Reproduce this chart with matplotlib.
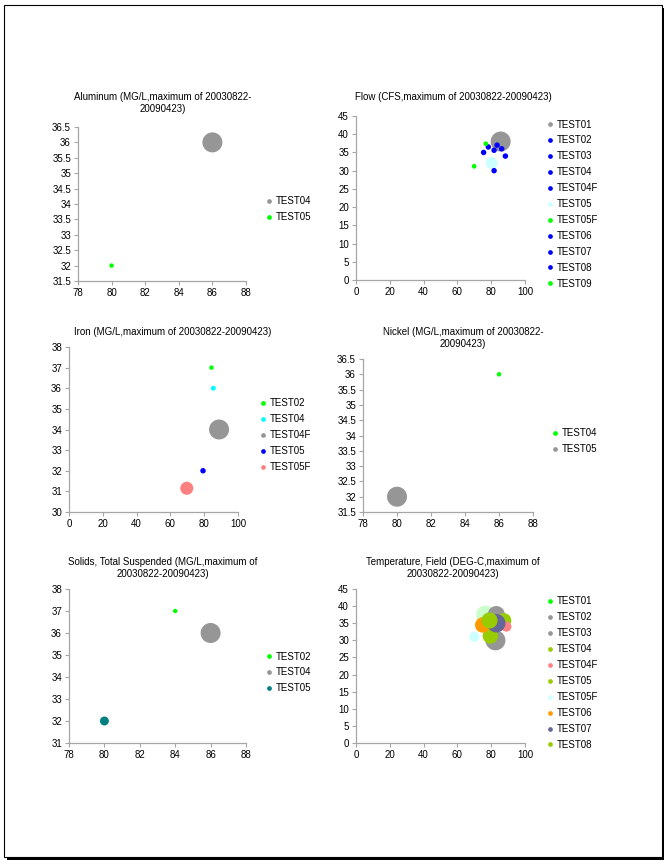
import matplotlib
matplotlib.use("Agg")
import matplotlib.pyplot as plt
from matplotlib.lines import Line2D
from matplotlib.patches import Rectangle
from matplotlib.ticker import StrMethodFormatter
import numpy as np

W, H = 670, 865
plt.rcParams['font.family'] = ['Liberation Sans', 'DejaVu Sans']
plt.rcParams['font.size'] = 7

GRAY = '#969696'
GREEN = '#00FF00'
BLUE = '#0000FF'
CYAN = '#00FFFF'
LCYAN = '#CCFFFF'
PINK = '#FF8080'
TEAL = '#008080'
YGREEN = '#99CC00'
ORANGE = '#FF9900'
SLATE = '#666699'
PALEGREEN = '#CCFFCC'

# Aluminum
al_labels = ['TEST04', 'TEST05']
al_x = [86, 80]
al_y = [36, 32]
al_size = [20, 1]

# Flow
flow_labels = ['TEST01', 'TEST02', 'TEST03', 'TEST04', 'TEST04F', 'TEST05',
               'TEST05F', 'TEST06', 'TEST07', 'TEST08', 'TEST09']
flow_x = [85.6, 75.5, 78.3, 81.7, 83.5, 80.3, 76.8, 86.2, 88.4, 81.7, 69.9]
flow_y = [38.0, 35.0, 36.5, 35.6, 37.0, 32.1, 37.4, 36.0, 34.0, 30.0, 31.2]
flow_size = [20, 1.5, 1.5, 1.5, 1.5, 7, 1.1, 1.5, 1.5, 1.5, 1.1]

# Iron
iron_labels = ['TEST02', 'TEST04', 'TEST04F', 'TEST05', 'TEST05F']
iron_x = [84.3, 85.4, 88.8, 79.3, 69.7]
iron_y = [37.0, 36.0, 34.0, 32.0, 31.15]
iron_size = [1, 1.2, 20, 1.5, 8.5]

# Nickel
ni_labels = ['TEST04', 'TEST05']
ni_x = [86, 80]
ni_y = [36, 32]
ni_size = [1, 20]

# Solids, Total Suspended
tss_labels = ['TEST02', 'TEST04', 'TEST05']
tss_x = [84, 86, 80]
tss_y = [37, 36, 32]
tss_size = [1, 20, 4]

# Temperature, Field
temp_labels = ['TEST01', 'TEST02', 'TEST03', 'TEST04', 'TEST04F', 'TEST05',
               'TEST05F', 'TEST06', 'TEST07', 'TEST08']
temp_x = [76.5, 83.0, 82.5, 87.5, 89.0, 79.5, 70.0, 75.0, 83.0, 79.0]
temp_y = [37.5, 37.5, 30.0, 35.8, 34.0, 31.3, 31.0, 34.5, 35.0, 35.8]
temp_size = [17, 15, 20, 11, 5, 12, 5, 12, 17, 13]


def px_axes(fig, x0, y0, x1, y1):
    ax = fig.add_axes([x0 / W, 1 - y1 / H, (x1 - x0) / W, (y1 - y0) / H])
    ax.set_facecolor('none')
    for s in ['top', 'right']:
        ax.spines[s].set_visible(False)
    for s in ['left', 'bottom']:
        ax.spines[s].set_color('#A6A6A6')
        ax.spines[s].set_linewidth(0.9)
    ax.tick_params(direction='out', length=3, width=0.8, color='#A6A6A6',
                   labelsize=7, pad=2)
    ax.xaxis.set_major_formatter(StrMethodFormatter('{x:g}'))
    ax.yaxis.set_major_formatter(StrMethodFormatter('{x:g}'))
    return ax


def panel(fig, rect, title, title_xy, xs, ys, sizes, colors, labels,
          xlim, xticks, ylim, yticks, leg_xy, leg_colors=None):
    ax = px_axes(fig, *rect)
    smax = max(sizes)
    for x, y, s, c in zip(xs, ys, sizes, colors):
        d = 20 * np.sqrt(s / smax)       # diameter in px
        ax.scatter([x], [y], s=(d * 0.72) ** 2, color=c, edgecolors='none',
                   clip_on=False)
    ax.set_xlim(*xlim)
    ax.set_ylim(*ylim)
    ax.set_xticks(xticks)
    ax.set_yticks(yticks)

    fig.text(title_xy[0] / W, 1 - title_xy[1] / H, title, ha='center',
             va='top', fontsize=7, linespacing=1.2)

    if leg_colors is None:
        leg_colors = colors
    handles = [Line2D([], [], ls='none', marker='o', markersize=3.4,
                      markerfacecolor=c, markeredgecolor='none')
               for c in leg_colors]
    ax.legend(handles, labels, loc='upper left',
              bbox_to_anchor=(leg_xy[0] / W, 1 - leg_xy[1] / H),
              bbox_transform=fig.transFigure, frameon=False, fontsize=7,
              borderpad=0, borderaxespad=0, handlelength=0.65,
              handletextpad=0.4, labelspacing=0.61)
    return ax


fig = plt.figure(figsize=(W / 100, H / 100), dpi=100)

# page frame with shadow
fig.patches.append(Rectangle((7 / W, 1 - 860 / H), 657 / W, 852 / H,
                             transform=fig.transFigure, facecolor='black',
                             edgecolor='none', zorder=-3))
fig.patches.append(Rectangle((4 / W, 1 - 857 / H), 658 / W, 852 / H,
                             transform=fig.transFigure, facecolor='white',
                             edgecolor='black', linewidth=0.8, zorder=-2))

panel(fig, (78, 127, 246, 281),
      'Aluminum (MG/L,maximum of 20030822-\n20090423)', (163, 92),
      al_x, al_y, al_size, [GRAY, GREEN], al_labels,
      (78, 88), np.arange(78, 89, 2), (31.5, 36.5), np.arange(31.5, 36.6, 0.5),
      (266, 196.5))

panel(fig, (356, 116, 525, 280),
      'Flow (CFS,maximum of 20030822-20090423)', (453, 92),
      flow_x, flow_y, flow_size,
      [GRAY, BLUE, BLUE, BLUE, BLUE, LCYAN, GREEN, BLUE, BLUE, BLUE, GREEN],
      flow_labels,
      (0, 100), np.arange(0, 101, 20), (0, 45), np.arange(0, 46, 5),
      (547, 119.5))

panel(fig, (69, 347, 238, 512),
      'Iron (MG/L,maximum of 20030822-20090423)', (173, 327),
      iron_x, iron_y, iron_size, [GREEN, CYAN, GRAY, BLUE, PINK], iron_labels,
      (0, 100), np.arange(0, 101, 20), (30, 38), np.arange(30, 38.1, 1),
      (260, 398.5))

panel(fig, (363, 359, 533, 512),
      'Nickel (MG/L,maximum of 20030822-\n20090423)', (463, 327),
      ni_x, ni_y, ni_size, [GREEN, GRAY], ni_labels,
      (78, 88), np.arange(78, 89, 2), (31.5, 36.5), np.arange(31.5, 36.6, 0.5),
      (552, 428.5))

panel(fig, (69, 589, 246, 743),
      'Solids, Total Suspended (MG/L,maximum of\n20030822-20090423)', (163, 557),
      tss_x, tss_y, tss_size, [GREEN, GRAY, TEAL], tss_labels,
      (78, 88), np.arange(78, 89, 2), (31, 38), np.arange(31, 38.1, 1),
      (266, 651.5))

panel(fig, (356, 589, 525, 743),
      'Temperature, Field (DEG-C,maximum of\n20030822-20090423)', (453, 557),
      temp_x, temp_y, temp_size,
      [PALEGREEN, GRAY, GRAY, YGREEN, PINK, YGREEN, LCYAN, ORANGE, SLATE, YGREEN],
      temp_labels,
      (0, 100), np.arange(0, 101, 20), (0, 45), np.arange(0, 46, 5),
      (547, 596.5),
      leg_colors=[GREEN, GRAY, GRAY, YGREEN, PINK, YGREEN, LCYAN, ORANGE, SLATE, YGREEN])

fig.savefig('out.png', dpi=100)
